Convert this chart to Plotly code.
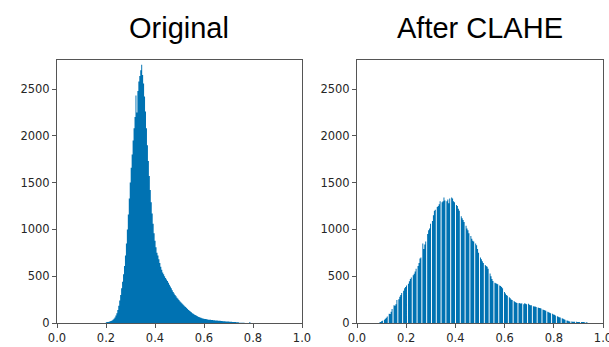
import plotly.graph_objects as go

# Histogram bins: 256 bins over [0, 1]
N_BINS = 256

# "Original" histogram: counts for bins 51..204
orig_start_bin = 51
orig_counts = [
    8, 10, 12, 14, 18, 22, 28, 35, 45, 60,
    80, 105, 140, 185, 240, 300, 370, 440, 520, 610,
    720, 850, 1000, 1160, 1330, 1500, 1660, 1800, 1950, 2080,
    2200, 2430, 2250, 2480, 2580, 2640, 2700, 2760, 2650, 2560,
    2420, 2260, 2080, 1900, 1730, 1570, 1420, 1290, 1170, 1060,
    960, 880, 810, 750, 720, 680, 640, 600, 570, 540,
    520, 500, 480, 465, 450, 430, 410, 390, 370, 350,
    330, 315, 300, 285, 270, 258, 245, 232, 222, 210,
    200, 190, 180, 170, 160, 150, 140, 130, 122, 114,
    105, 98, 92, 86, 80, 74, 68, 63, 59, 56,
    52, 49, 46, 44, 42, 40, 38, 36, 35, 34,
    32, 31, 30, 29, 28, 27, 26, 25, 24, 23,
    22, 21, 20, 19, 18, 17, 16, 16, 15, 14,
    14, 13, 12, 11, 10, 10, 9, 8, 7, 4,
    3, 3, 2, 2, 2, 1, 1, 1, 1, 1,
    12, 1,
]

# "After CLAHE" histogram: counts for bins 23..239 (empty bins are 0)
clahe_start_bin = 23
clahe_counts = [
    5, 10, 20, 25, 0, 35, 45, 55, 70, 0,
    100, 95, 120, 150, 0, 190, 185, 200, 245, 0,
    255, 280, 300, 320, 0, 345, 370, 385, 400, 0,
    420, 445, 470, 485, 0, 510, 525, 550, 580, 0,
    610, 640, 690, 700, 0, 850, 790, 840, 870, 0,
    950, 990, 1010, 1060, 0, 1090, 1150, 1200, 1210, 0,
    1240, 1250, 1270, 1300, 0, 1290, 1300, 1340, 1310, 0,
    1300, 1320, 1280, 1330, 0, 1340, 1330, 1300, 1290, 0,
    1260, 1250, 1220, 1200, 0, 1140, 1120, 1100, 1080, 0,
    1040, 1010, 990, 960, 0, 930, 900, 880, 870, 0,
    850, 830, 790, 750, 0, 700, 680, 660, 640, 0,
    620, 610, 600, 580, 0, 530, 500, 470, 450, 0,
    430, 425, 420, 415, 0, 400, 395, 385, 370, 0,
    330, 315, 300, 290, 0, 275, 265, 250, 245, 0,
    235, 225, 220, 215, 0, 210, 215, 205, 210, 0,
    200, 210, 205, 200, 0, 205, 195, 190, 190, 0,
    180, 175, 175, 170, 0, 165, 160, 160, 155, 0,
    145, 140, 135, 130, 0, 120, 115, 110, 105, 0,
    100, 92, 88, 80, 0, 72, 68, 62, 58, 0,
    52, 45, 40, 35, 0, 28, 24, 20, 17, 0,
    15, 14, 14, 13, 0, 13, 12, 12, 12, 0,
    11, 10, 10, 10, 0, 8, 5,
]

titles = ["Original", "After CLAHE"]
x_ticks = [0.0, 0.2, 0.4, 0.6, 0.8, 1.0]
x_tick_labels = ["0.0", "0.2", "0.4", "0.6", "0.8", "1.0"]
y_ticks = [0, 500, 1000, 1500, 2000, 2500]
y_tick_labels = ["0", "500", "1000", "1500", "2000", "2500"]

bin_w = 1.0 / N_BINS

def step_xy(start, counts):
    # bin edges and counts for a step-filled histogram outline
    xs = [(start + k) * bin_w for k in range(len(counts) + 1)]
    ys = list(counts) + [counts[-1]]
    return xs, ys

BAR_COLOR = "#0072b2"
W, H = 609, 347

fig = go.Figure()
for i, (start, counts) in enumerate([(orig_start_bin, orig_counts),
                                     (clahe_start_bin, clahe_counts)]):
    xs, ys = step_xy(start, counts)
    sx = "" if i == 0 else "2"
    fig.add_trace(go.Scatter(x=xs, y=ys, mode="lines", line=dict(shape="hv", width=0, color=BAR_COLOR),
                             fill="tozeroy", fillcolor=BAR_COLOR,
                             xaxis="x" + sx, yaxis="y" + sx, showlegend=False, hoverinfo="skip"))

px_l = [(57, 302), (357, 603)]
y_bot, y_top = 323, 60

axis_common = dict(showline=True, mirror=True, linecolor="#555555", linewidth=1,
                   ticks="outside", ticklen=4, tickcolor="#555555", tickwidth=1,
                   showgrid=False, zeroline=False, automargin=False,
                   ticklabeloverflow="allow",
                   tickfont=dict(family="DejaVu Sans", size=11.5, color="#262626"))

ydom = [(H - y_bot) / H, (H - y_top) / H]
layout = dict(width=W, height=H, margin=dict(l=0, r=0, t=0, b=0, autoexpand=False),
              paper_bgcolor="white", plot_bgcolor="white",
              font=dict(family="DejaVu Sans"))
for i, (a, b) in enumerate(px_l):
    sx = "" if i == 0 else "2"
    layout["xaxis" + sx] = dict(domain=[a / W, b / W], range=[0, 1], anchor="y" + sx,
                                tickvals=x_ticks, ticktext=x_tick_labels, **axis_common)
    layout["yaxis" + sx] = dict(domain=ydom, range=[0, 2810], anchor="x" + sx,
                                tickvals=y_ticks, ticktext=y_tick_labels, **axis_common)
fig.update_layout(**layout)

for i, (a, b) in enumerate(px_l):
    fig.add_annotation(text=titles[i], x=(a + b) / 2 / W, y=(H - 28) / H,
                       xref="paper", yref="paper", xanchor="center", yanchor="middle",
                       showarrow=False,
                       font=dict(family="Liberation Sans, Arial", size=29, color="black"))

fig.write_html("out.html", config={"displayModeBar": False, "staticPlot": True},
               post_script="document.body.style.margin='0';document.body.style.overflow='hidden';")
